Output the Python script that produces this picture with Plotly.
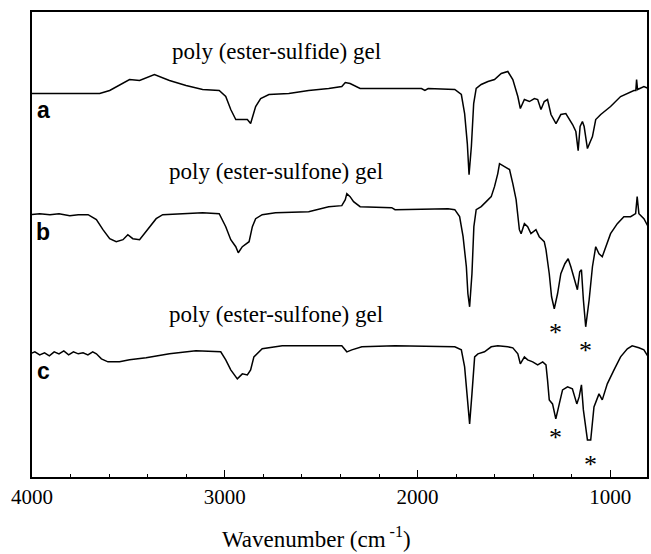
import plotly.graph_objects as go

# ---- data (wavenumber in cm^-1, intensity in arbitrary units, offset traces) ----
wn_a = [4010, 3649, 3597, 3511, 3494, 3442, 3365, 3287, 3201, 3115, 3029, 2995, 2969, 2943,
        2909, 2883, 2866, 2840, 2814, 2771, 2668, 2565, 2461, 2393, 2375, 2350, 2298, 1980,
        1962, 1945, 1807, 1773, 1756, 1742, 1733, 1721, 1709, 1696, 1670, 1635, 1601, 1566,
        1532, 1506, 1480, 1467, 1446, 1420, 1394, 1377, 1360, 1343, 1326, 1308, 1282, 1257,
        1231, 1214, 1196, 1179, 1167, 1157, 1145, 1136, 1119, 1093, 1076, 1050, 999, 947,
        912, 878, 868, 864, 859, 826, 804]
int_a = [383, 383, 386, 395, 397, 396, 402, 396, 391, 387, 386, 380, 367, 357,
         357, 357, 353, 370, 378, 382, 383, 386, 388, 390, 394, 393, 388, 388,
         386, 388, 387, 382, 363, 333, 302, 330, 373, 388, 392, 395, 397, 403,
         405, 397, 380, 368, 377, 375, 378, 377, 367, 375, 377, 362, 353, 362,
         363, 358, 352, 345, 326, 350, 355, 350, 328, 340, 357, 362, 370, 380,
         383, 386, 386, 397, 387, 390, 388]

wn_b = [4010, 3960, 3907, 3860, 3804, 3760, 3709, 3666, 3632, 3597, 3563, 3528, 3503, 3477,
        3442, 3391, 3356, 3322, 3219, 3115, 3029, 2995, 2969, 2943, 2930, 2909, 2874, 2857,
        2840, 2806, 2737, 2565, 2461, 2393, 2375, 2367, 2350, 2332, 2298, 2134, 2117, 1842,
        1807, 1782, 1764, 1747, 1739, 1730, 1718, 1708, 1696, 1670, 1644, 1618, 1601, 1584,
        1575, 1549, 1523, 1506, 1489, 1472, 1463, 1446, 1429, 1412, 1386, 1369, 1343, 1334,
        1317, 1305, 1291, 1274, 1257, 1236, 1219, 1205, 1188, 1171, 1159, 1150, 1140, 1128,
        1110, 1093, 1076, 1059, 1042, 1024, 999, 964, 930, 895, 869, 861, 852, 826, 804]
int_b = [262, 263, 262, 263, 261, 262, 262, 257, 247, 238, 235, 237, 242, 238,
         237, 250, 258, 262, 263, 264, 263, 250, 237, 230, 224, 230, 235, 250,
         258, 262, 264, 265, 270, 271, 277, 283, 280, 275, 270, 269, 267, 268,
         267, 260, 240, 210, 183, 170, 203, 250, 267, 270, 275, 280, 290, 303,
         313, 310, 307, 293, 277, 247, 243, 253, 250, 243, 247, 240, 235, 227,
         203, 180, 168, 183, 203, 213, 218, 210, 197, 187, 205, 207, 177, 150,
         177, 210, 230, 223, 220, 230, 243, 253, 260, 260, 263, 280, 263, 258, 250]

wn_c = [4010, 3985, 3960, 3935, 3910, 3885, 3860, 3835, 3810, 3785, 3760, 3735, 3710, 3685,
        3666, 3640, 3606, 3546, 3494, 3408, 3287, 3150, 3021, 2995, 2969, 2935, 2909, 2883,
        2866, 2849, 2806, 2702, 2461, 2393, 2367, 2341, 2289, 2117, 1807, 1773, 1756, 1742,
        1730, 1718, 1704, 1687, 1653, 1618, 1584, 1532, 1506, 1480, 1467, 1446, 1429, 1403,
        1377, 1351, 1334, 1326, 1317, 1300, 1283, 1265, 1248, 1222, 1197, 1174, 1162, 1150,
        1140, 1119, 1102, 1085, 1059, 1042, 1016, 981, 947, 912, 887, 852, 826, 804]
int_c = [123, 125, 122, 124, 121, 125, 123, 126, 122, 125, 123, 124, 122, 125,
         123, 118, 115, 115, 117, 119, 123, 126, 125, 117, 107, 98, 103, 102,
         107, 120, 128, 131, 131, 131, 125, 127, 130, 131, 130, 127, 110, 83,
         53, 83, 120, 123, 125, 130, 131, 130, 129, 123, 113, 120, 117, 115,
         112, 115, 112, 97, 77, 73, 58, 73, 87, 90, 88, 73, 80, 92,
         67, 37, 37, 70, 83, 77, 93, 107, 120, 128, 131, 129, 127, 120]

series_names = ["a", "b", "c"]
series_titles = ["poly (ester-sulfide) gel", "poly (ester-sulfone) gel", "poly (ester-sulfone) gel"]
title_pos = [(2732, 425), (2732, 305), (2732, 162)]
letter_pos = [(3942, 367), (3942, 245), (3942, 106)]
star_wn = [1283, 1128, 1283, 1102]
star_int = [150, 132, 45, 18]

x_ticks = [4000, 3000, 2000, 1000]

SERIF = "Times New Roman, Liberation Serif, DejaVu Serif, serif"
SANS = "Arial, Liberation Sans, sans-serif"

fig = go.Figure()
for wn, it, nm in zip([wn_a, wn_b, wn_c], [int_a, int_b, int_c], series_names):
    fig.add_trace(go.Scatter(x=wn, y=it, mode="lines", name=nm,
                             line=dict(color="black", width=1.5), showlegend=False))

for (xx, yy), t in zip(title_pos, series_titles):
    fig.add_annotation(x=xx, y=yy, text=t, showarrow=False, xref="x", yref="y",
                       font=dict(family=SERIF, size=23, color="black"))
for (xx, yy), t in zip(letter_pos, series_names):
    fig.add_annotation(x=xx, y=yy, text="<b>%s</b>" % t, showarrow=False, xref="x", yref="y",
                       font=dict(family=SANS, size=23, color="black"))
for xx, yy in zip(star_wn, star_int):
    fig.add_annotation(x=xx, y=yy, text="*", showarrow=False, xref="x", yref="y",
                       yshift=-6, font=dict(family=SERIF, size=26, color="black"))

fig.add_annotation(x=0.4625, y=-0.131, xref="paper", yref="paper", showarrow=False,
                   yanchor="middle", xanchor="center",
                   text="Wavenumber (cm<sup> -1</sup>)",
                   font=dict(family=SERIF, size=23, color="black"))

fig.update_layout(
    width=651, height=554,
    margin=dict(l=32, r=2, t=12, b=77),
    paper_bgcolor="white", plot_bgcolor="white",
    font=dict(family=SERIF, color="black"),
    xaxis=dict(range=[4000, 810], tickvals=x_ticks, ticks="inside", ticklen=7, tickwidth=1.2,
               tickcolor="black", showline=True, linecolor="black", linewidth=2, mirror=True,
               showgrid=False, zeroline=False,
               tickfont=dict(family=SERIF, size=21, color="black"),
               minor=dict(dtick=200, ticks="inside", ticklen=3, tickcolor="black", tickwidth=1)),
    yaxis=dict(range=[0, 464.4], showticklabels=False, ticks="", showline=True, linecolor="black",
               linewidth=2, mirror=True, showgrid=False, zeroline=False),
)

fig.write_html("out.html")
